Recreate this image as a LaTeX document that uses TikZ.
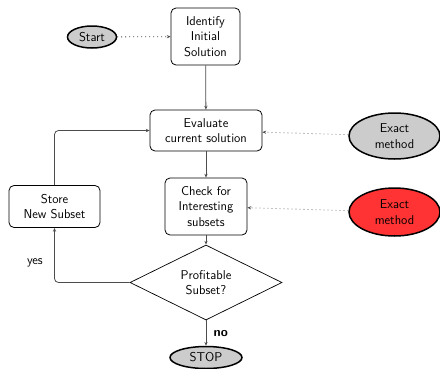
\documentclass[tikz,border=0pt]{standalone}
\usetikzlibrary{shapes.geometric,arrows.meta}
\begin{document}
\begin{tikzpicture}[x=1pt,y=-1pt,
  font=\sffamily\fontsize{12.8}{15.5}\selectfont,
  box/.style={draw, rounded corners=5pt, line width=0.8pt, align=center, inner sep=0pt},
  term/.style={draw, ellipse, line width=1.5pt, fill=black!20, align=center, inner sep=0pt},
  decision/.style={draw, diamond, line width=0.7pt, align=center, inner sep=0pt, aspect=2},
  flow/.style={draw=black!70, line width=0.8pt, -{Stealth[length=3.8pt,width=3.2pt]}},
  hint/.style={draw=black!70, line width=0.8pt, dash pattern=on 0.8pt off 3.2pt, -{Stealth[length=3.8pt,width=3.2pt]}}]
\useasboundingbox (0,0) rectangle (440,368);
% nodes
\node[term, minimum width=49pt, minimum height=22pt] (start) at (92,37) {Start};
\node[box, minimum width=69pt, minimum height=57pt] (ident) at (205.5,36.5) {Identify\\Initial\\Solution};
\node[box, minimum width=112pt, minimum height=41pt] (eval) at (206,130.5) {Evaluate\\current solution};
\node[box, minimum width=82pt, minimum height=57pt] (check) at (206,206.5) {Check for\\Interesting\\subsets};
\node[box, minimum width=91pt, minimum height=42pt] (store) at (54.5,206.5) {Store\\New Subset};
\node[term, minimum width=91pt, minimum height=46pt] (exa) at (394.5,136) {Exact\\method};
\node[term, fill=red!80!white, minimum width=91pt, minimum height=48pt] (exb) at (394.5,212) {Exact\\method};
\node[decision, minimum width=152pt, minimum height=75pt] (profit) at (206,282.5) {Profitable\\Subset?};
\node[term, minimum width=72pt, minimum height=22pt] (stop) at (206,357.5) {STOP};
% connectors
\draw[hint] (start) -- (ident);
\draw[hint] (exa) -- (eval);
\draw[hint] (exb) -- (check);
\draw[flow] (ident) -- (eval);
\draw[flow] (eval) -- (check);
\draw[flow] (check) -- (profit);
\draw[flow] (profit) -- node[right=4pt, font=\sffamily\bfseries\fontsize{12.8}{15.5}\selectfont] {no} (stop);
\draw[flow, rounded corners=4pt] (profit.west) -| node[pos=0.68, left=8pt] {yes} (store.south);
\draw[flow, rounded corners=4pt] (store.north) |- (eval.west);
\end{tikzpicture}
\end{document}
